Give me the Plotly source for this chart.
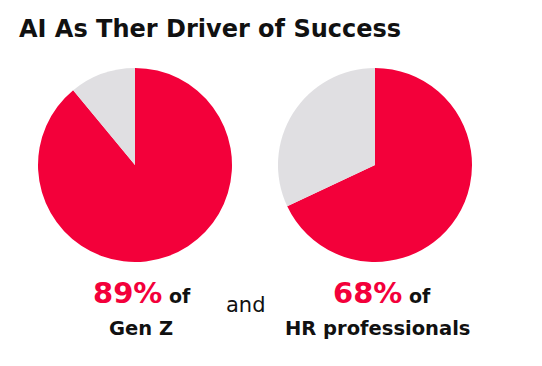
import plotly.graph_objects as go

W, H = 542, 366
title = "AI As Ther Driver of Success"
groups = ["Gen Z", "HR professionals"]
percent_yes = [89, 68]
percent_rest = [11, 32]
slice_labels = ["Yes", "Other"]
RED = "#F3003A"
GRAY = "#E0DFE2"
FONT = "DejaVu Sans"

centers_px = [(135, 165), (375, 165)]
R = 97

fig = go.Figure()
for (cx, cy), yes, rest, g in zip(centers_px, percent_yes, percent_rest, groups):
    fig.add_trace(go.Pie(
        labels=slice_labels, values=[yes, rest], name=g,
        sort=False, direction="clockwise", rotation=0,
        marker=dict(colors=[RED, GRAY], line=dict(width=0)),
        textinfo="none", hoverinfo="label+percent", showlegend=False,
        domain=dict(x=[(cx - R) / W, (cx + R) / W],
                    y=[1 - (cy + R) / H, 1 - (cy - R) / H]),
    ))

def px_ann(x, y, text, size, xanchor="center", yanchor="middle", color="#111"):
    fig.add_annotation(x=x / W, y=1 - y / H, xref="paper", yref="paper",
                       text=text, showarrow=False, xanchor=xanchor, yanchor=yanchor,
                       font=dict(family=FONT, size=size, color=color))

px_ann(17, 29, "<b>" + title + "</b>", 24, xanchor="left")
for (cx, cy), yes, g in zip(centers_px, percent_yes, groups):
    px_ann(cx + 7, 293,
           f"<span style='color:{RED};font-size:29px;font-weight:600'>{yes}%</span><b> of</b>", 19)
    px_ann(cx + (6 if g == "Gen Z" else 2), 328, f"<b>{g}</b>", 19.5)
px_ann(246, 305, "and", 21)

fig.update_layout(width=W, height=H, margin=dict(l=0, r=0, t=0, b=0),
                  paper_bgcolor="white", plot_bgcolor="white")
fig.write_html("out.html")
